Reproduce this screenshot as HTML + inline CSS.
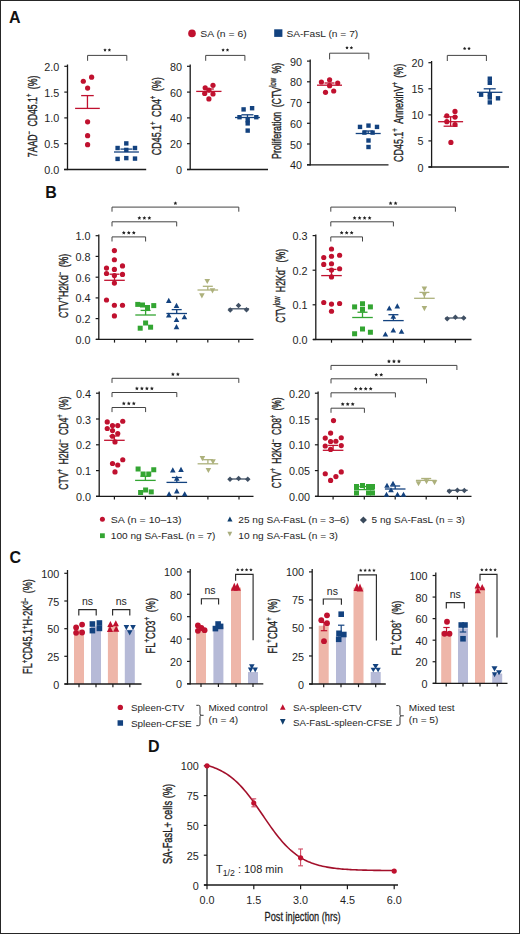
<!DOCTYPE html>
<html><head><meta charset="utf-8"><title>Figure</title>
<style>
html,body{margin:0;padding:0;background:#fff;}
body{width:520px;height:934px;overflow:hidden;}
svg{display:block;font-family:"Liberation Sans",sans-serif;}
</style></head>
<body>
<svg width="520" height="934" viewBox="0 0 520 934">
<rect x="0.5" y="0.5" width="519" height="933" fill="#fff" stroke="#262626" stroke-width="1"/>
<text x="9" y="22.8" font-size="16" text-anchor="start" fill="#111" font-weight="bold">A</text>
<text x="45.2" y="198.4" font-size="16" text-anchor="start" fill="#111" font-weight="bold">B</text>
<text x="9.6" y="562.6" font-size="16" text-anchor="start" fill="#111" font-weight="bold">C</text>
<text x="148" y="751.8" font-size="16" text-anchor="start" fill="#111" font-weight="bold">D</text>
<circle cx="192" cy="33.4" r="3.8" fill="#c0112f"/>
<text x="200.2" y="37.2" font-size="9.9" text-anchor="start" fill="#1e1e1e" font-weight="normal" textLength="46.6" lengthAdjust="spacingAndGlyphs">SA (n = 6)</text>
<rect x="274.2" y="29.3" width="8.2" height="7.6" fill="#13427f"/>
<text x="286.4" y="37.2" font-size="9.9" text-anchor="start" fill="#1e1e1e" font-weight="normal" textLength="71.8" lengthAdjust="spacingAndGlyphs">SA-FasL (n = 7)</text>
<line x1="67.5" y1="64.5" x2="67.5" y2="170.1" stroke="#1a1a1a" stroke-width="1.3"/>
<line x1="64.3" y1="169.5" x2="67.5" y2="169.5" stroke="#1a1a1a" stroke-width="1.2"/>
<text x="59.3" y="174.04" font-size="10.8" text-anchor="end" fill="#1e1e1e" font-weight="normal">0.0</text>
<line x1="64.3" y1="143.7" x2="67.5" y2="143.7" stroke="#1a1a1a" stroke-width="1.2"/>
<text x="59.3" y="148.24" font-size="10.8" text-anchor="end" fill="#1e1e1e" font-weight="normal">0.5</text>
<line x1="64.3" y1="117.9" x2="67.5" y2="117.9" stroke="#1a1a1a" stroke-width="1.2"/>
<text x="59.3" y="122.44" font-size="10.8" text-anchor="end" fill="#1e1e1e" font-weight="normal">1.0</text>
<line x1="64.3" y1="92.1" x2="67.5" y2="92.1" stroke="#1a1a1a" stroke-width="1.2"/>
<text x="59.3" y="96.64" font-size="10.8" text-anchor="end" fill="#1e1e1e" font-weight="normal">1.5</text>
<line x1="64.3" y1="66.3" x2="67.5" y2="66.3" stroke="#1a1a1a" stroke-width="1.2"/>
<text x="59.3" y="70.84" font-size="10.8" text-anchor="end" fill="#1e1e1e" font-weight="normal">2.0</text>
<line x1="64" y1="169.5" x2="146.2" y2="169.5" stroke="#1a1a1a" stroke-width="1.3"/>
<polyline points="87.6,60.8 87.6,55.4 126.8,55.4 126.8,60.8" fill="none" stroke="#444" stroke-width="1.0"/>
<polygon points="105,48.2 105.53,49.27 106.71,49.44 105.86,50.28 106.06,51.46 105,50.9 103.94,51.46 104.14,50.28 103.29,49.44 104.47,49.27" fill="#222"/>
<polygon points="109.4,48.2 109.93,49.27 111.11,49.44 110.26,50.28 110.46,51.46 109.4,50.9 108.34,51.46 108.54,50.28 107.69,49.44 108.87,49.27" fill="#222"/>
<circle cx="83.3" cy="81.25" r="2.6" fill="#c0112f"/>
<circle cx="91.6" cy="77.2" r="2.6" fill="#c0112f"/>
<circle cx="87.6" cy="88.1" r="2.6" fill="#c0112f"/>
<circle cx="87.6" cy="121.8" r="2.6" fill="#c0112f"/>
<circle cx="87.6" cy="135.7" r="2.6" fill="#c0112f"/>
<circle cx="87.6" cy="144.7" r="2.6" fill="#c0112f"/>
<line x1="75.1" y1="108.4" x2="99.8" y2="108.4" stroke="#c0112f" stroke-width="1.3"/>
<line x1="87.45" y1="108.4" x2="87.45" y2="95.6" stroke="#c0112f" stroke-width="1.3"/>
<line x1="81.15" y1="95.6" x2="93.75" y2="95.6" stroke="#c0112f" stroke-width="1.3"/>
<rect x="115.4" y="145.8" width="4.4" height="4.4" fill="#13427f"/>
<rect x="124.1" y="141.2" width="4.4" height="4.4" fill="#13427f"/>
<rect x="132.8" y="145.8" width="4.4" height="4.4" fill="#13427f"/>
<rect x="124.1" y="147.7" width="4.4" height="4.4" fill="#13427f"/>
<rect x="115.4" y="156.7" width="4.4" height="4.4" fill="#13427f"/>
<rect x="124.1" y="155.9" width="4.4" height="4.4" fill="#13427f"/>
<rect x="132.8" y="156.4" width="4.4" height="4.4" fill="#13427f"/>
<line x1="114" y1="152" x2="138.9" y2="152" stroke="#13427f" stroke-width="1.3"/>
<line x1="126.45" y1="152" x2="126.45" y2="149.1" stroke="#13427f" stroke-width="1.3"/>
<line x1="120.45" y1="149.1" x2="132.45" y2="149.1" stroke="#13427f" stroke-width="1.3"/>
<text transform="translate(37,116.45) rotate(-90)" x="0" y="0" font-size="13.5" text-anchor="middle" fill="#1e1e1e" stroke="#1e1e1e" stroke-width="0.38" textLength="81.5" lengthAdjust="spacingAndGlyphs">7AAD<tspan dy="-4.8" font-size="9" stroke-width="0.3">−</tspan><tspan dy="4.8"> CD45.1</tspan><tspan dy="-4.8" font-size="9" stroke-width="0.3">+</tspan><tspan dy="4.8"> (%)</tspan></text>
<line x1="190.2" y1="64.5" x2="190.2" y2="170.1" stroke="#1a1a1a" stroke-width="1.3"/>
<line x1="187" y1="169.5" x2="190.2" y2="169.5" stroke="#1a1a1a" stroke-width="1.2"/>
<text x="182" y="174.04" font-size="10.8" text-anchor="end" fill="#1e1e1e" font-weight="normal">0</text>
<line x1="187" y1="143.7" x2="190.2" y2="143.7" stroke="#1a1a1a" stroke-width="1.2"/>
<text x="182" y="148.24" font-size="10.8" text-anchor="end" fill="#1e1e1e" font-weight="normal">20</text>
<line x1="187" y1="117.9" x2="190.2" y2="117.9" stroke="#1a1a1a" stroke-width="1.2"/>
<text x="182" y="122.44" font-size="10.8" text-anchor="end" fill="#1e1e1e" font-weight="normal">40</text>
<line x1="187" y1="92.1" x2="190.2" y2="92.1" stroke="#1a1a1a" stroke-width="1.2"/>
<text x="182" y="96.64" font-size="10.8" text-anchor="end" fill="#1e1e1e" font-weight="normal">60</text>
<line x1="187" y1="66.3" x2="190.2" y2="66.3" stroke="#1a1a1a" stroke-width="1.2"/>
<text x="182" y="70.84" font-size="10.8" text-anchor="end" fill="#1e1e1e" font-weight="normal">80</text>
<line x1="187" y1="169.5" x2="268" y2="169.5" stroke="#1a1a1a" stroke-width="1.3"/>
<polyline points="205.7,60.8 205.7,55.4 244.9,55.4 244.9,60.8" fill="none" stroke="#444" stroke-width="1.0"/>
<polygon points="223.1,48.2 223.63,49.27 224.81,49.44 223.96,50.28 224.16,51.46 223.1,50.9 222.04,51.46 222.24,50.28 221.39,49.44 222.57,49.27" fill="#222"/>
<polygon points="227.5,48.2 228.03,49.27 229.21,49.44 228.36,50.28 228.56,51.46 227.5,50.9 226.44,51.46 226.64,50.28 225.79,49.44 226.97,49.27" fill="#222"/>
<circle cx="205.2" cy="87.8" r="2.6" fill="#c0112f"/>
<circle cx="213" cy="85.3" r="2.6" fill="#c0112f"/>
<circle cx="204.7" cy="93.5" r="2.6" fill="#c0112f"/>
<circle cx="213" cy="94" r="2.6" fill="#c0112f"/>
<circle cx="208.9" cy="90.2" r="2.6" fill="#c0112f"/>
<circle cx="208.9" cy="98.9" r="2.6" fill="#c0112f"/>
<line x1="196.2" y1="91.4" x2="221.5" y2="91.4" stroke="#c0112f" stroke-width="1.3"/>
<line x1="208.85" y1="91.4" x2="208.85" y2="89" stroke="#c0112f" stroke-width="1.3"/>
<line x1="203.85" y1="89" x2="213.85" y2="89" stroke="#c0112f" stroke-width="1.3"/>
<rect x="241.4" y="107.2" width="4.4" height="4.4" fill="#13427f"/>
<rect x="249.9" y="106" width="4.4" height="4.4" fill="#13427f"/>
<rect x="237.3" y="115" width="4.4" height="4.4" fill="#13427f"/>
<rect x="254.1" y="115" width="4.4" height="4.4" fill="#13427f"/>
<rect x="245.5" y="118" width="4.4" height="4.4" fill="#13427f"/>
<rect x="245.5" y="121.2" width="4.4" height="4.4" fill="#13427f"/>
<rect x="245.5" y="128.4" width="4.4" height="4.4" fill="#13427f"/>
<line x1="235" y1="117.5" x2="259.9" y2="117.5" stroke="#13427f" stroke-width="1.3"/>
<line x1="247.45" y1="117.5" x2="247.45" y2="114.8" stroke="#13427f" stroke-width="1.3"/>
<line x1="241.45" y1="114.8" x2="253.45" y2="114.8" stroke="#13427f" stroke-width="1.3"/>
<text transform="translate(161.2,116.25) rotate(-90)" x="0" y="0" font-size="13.5" text-anchor="middle" fill="#1e1e1e" stroke="#1e1e1e" stroke-width="0.38" textLength="77.9" lengthAdjust="spacingAndGlyphs">CD45.1<tspan dy="-4.8" font-size="9" stroke-width="0.3">+</tspan><tspan dy="4.8"> CD4</tspan><tspan dy="-4.8" font-size="9" stroke-width="0.3">+</tspan><tspan dy="4.8"> (%)</tspan></text>
<line x1="310.2" y1="59.5" x2="310.2" y2="165.4" stroke="#1a1a1a" stroke-width="1.3"/>
<line x1="307" y1="164.8" x2="310.2" y2="164.8" stroke="#1a1a1a" stroke-width="1.2"/>
<text x="302" y="169.34" font-size="10.8" text-anchor="end" fill="#1e1e1e" font-weight="normal">40</text>
<line x1="307" y1="144" x2="310.2" y2="144" stroke="#1a1a1a" stroke-width="1.2"/>
<text x="302" y="148.54" font-size="10.8" text-anchor="end" fill="#1e1e1e" font-weight="normal">50</text>
<line x1="307" y1="123.3" x2="310.2" y2="123.3" stroke="#1a1a1a" stroke-width="1.2"/>
<text x="302" y="127.84" font-size="10.8" text-anchor="end" fill="#1e1e1e" font-weight="normal">60</text>
<line x1="307" y1="102.5" x2="310.2" y2="102.5" stroke="#1a1a1a" stroke-width="1.2"/>
<text x="302" y="107.04" font-size="10.8" text-anchor="end" fill="#1e1e1e" font-weight="normal">70</text>
<line x1="307" y1="81.8" x2="310.2" y2="81.8" stroke="#1a1a1a" stroke-width="1.2"/>
<text x="302" y="86.34" font-size="10.8" text-anchor="end" fill="#1e1e1e" font-weight="normal">80</text>
<line x1="307" y1="61.1" x2="310.2" y2="61.1" stroke="#1a1a1a" stroke-width="1.2"/>
<text x="302" y="65.64" font-size="10.8" text-anchor="end" fill="#1e1e1e" font-weight="normal">90</text>
<line x1="307" y1="164.8" x2="388.5" y2="164.8" stroke="#1a1a1a" stroke-width="1.3"/>
<polyline points="329.6,59.4 329.6,53.2 368.8,53.2 368.8,59.4" fill="none" stroke="#444" stroke-width="1.0"/>
<polygon points="347,46 347.53,47.07 348.71,47.24 347.86,48.08 348.06,49.26 347,48.7 345.94,49.26 346.14,48.08 345.29,47.24 346.47,47.07" fill="#222"/>
<polygon points="351.4,46 351.93,47.07 353.11,47.24 352.26,48.08 352.46,49.26 351.4,48.7 350.34,49.26 350.54,48.08 349.69,47.24 350.87,47.07" fill="#222"/>
<circle cx="321.4" cy="82" r="2.6" fill="#c0112f"/>
<circle cx="329.6" cy="79.8" r="2.6" fill="#c0112f"/>
<circle cx="337.7" cy="83.1" r="2.6" fill="#c0112f"/>
<circle cx="329.6" cy="85.7" r="2.6" fill="#c0112f"/>
<circle cx="325.5" cy="92.3" r="2.6" fill="#c0112f"/>
<circle cx="333.7" cy="91" r="2.6" fill="#c0112f"/>
<line x1="317" y1="85.2" x2="342" y2="85.2" stroke="#c0112f" stroke-width="1.3"/>
<line x1="329.5" y1="85.2" x2="329.5" y2="83" stroke="#c0112f" stroke-width="1.3"/>
<line x1="324.5" y1="83" x2="334.5" y2="83" stroke="#c0112f" stroke-width="1.3"/>
<rect x="357.8" y="124.7" width="4.4" height="4.4" fill="#13427f"/>
<rect x="366.3" y="123.4" width="4.4" height="4.4" fill="#13427f"/>
<rect x="374.8" y="124.7" width="4.4" height="4.4" fill="#13427f"/>
<rect x="362.2" y="130.4" width="4.4" height="4.4" fill="#13427f"/>
<rect x="370.4" y="130.4" width="4.4" height="4.4" fill="#13427f"/>
<rect x="366.3" y="138.3" width="4.4" height="4.4" fill="#13427f"/>
<rect x="366.3" y="144.8" width="4.4" height="4.4" fill="#13427f"/>
<line x1="355.7" y1="133.5" x2="380.7" y2="133.5" stroke="#13427f" stroke-width="1.3"/>
<line x1="368.2" y1="133.5" x2="368.2" y2="131" stroke="#13427f" stroke-width="1.3"/>
<line x1="363.2" y1="131" x2="373.2" y2="131" stroke="#13427f" stroke-width="1.3"/>
<text transform="translate(281,110.8) rotate(-90)" x="0" y="0" font-size="13.5" text-anchor="middle" fill="#1e1e1e" stroke="#1e1e1e" stroke-width="0.38" textLength="96.2" lengthAdjust="spacingAndGlyphs">Proliferation (CTV<tspan dy="-4.8" font-size="9" stroke-width="0.3">low</tspan><tspan dy="4.8"> %)</tspan></text>
<line x1="431.6" y1="61" x2="431.6" y2="167.6" stroke="#1a1a1a" stroke-width="1.3"/>
<line x1="428.4" y1="167" x2="431.6" y2="167" stroke="#1a1a1a" stroke-width="1.2"/>
<text x="423.4" y="171.54" font-size="10.8" text-anchor="end" fill="#1e1e1e" font-weight="normal">0</text>
<line x1="428.4" y1="140.9" x2="431.6" y2="140.9" stroke="#1a1a1a" stroke-width="1.2"/>
<text x="423.4" y="145.44" font-size="10.8" text-anchor="end" fill="#1e1e1e" font-weight="normal">5</text>
<line x1="428.4" y1="114.9" x2="431.6" y2="114.9" stroke="#1a1a1a" stroke-width="1.2"/>
<text x="423.4" y="119.44" font-size="10.8" text-anchor="end" fill="#1e1e1e" font-weight="normal">10</text>
<line x1="428.4" y1="88.8" x2="431.6" y2="88.8" stroke="#1a1a1a" stroke-width="1.2"/>
<text x="423.4" y="93.34" font-size="10.8" text-anchor="end" fill="#1e1e1e" font-weight="normal">15</text>
<line x1="428.4" y1="62.7" x2="431.6" y2="62.7" stroke="#1a1a1a" stroke-width="1.2"/>
<text x="423.4" y="67.24" font-size="10.8" text-anchor="end" fill="#1e1e1e" font-weight="normal">20</text>
<line x1="428.5" y1="167" x2="509" y2="167" stroke="#1a1a1a" stroke-width="1.3"/>
<polyline points="447.3,61 447.3,55.4 486.4,55.4 486.4,61" fill="none" stroke="#444" stroke-width="1.0"/>
<polygon points="464.65,46.8 465.18,47.87 466.36,48.04 465.51,48.88 465.71,50.06 464.65,49.5 463.59,50.06 463.79,48.88 462.94,48.04 464.12,47.87" fill="#222"/>
<polygon points="469.05,46.8 469.58,47.87 470.76,48.04 469.91,48.88 470.11,50.06 469.05,49.5 467.99,50.06 468.19,48.88 467.34,48.04 468.52,47.87" fill="#222"/>
<circle cx="446.8" cy="115.8" r="2.6" fill="#c0112f"/>
<circle cx="455" cy="111.4" r="2.6" fill="#c0112f"/>
<circle cx="455" cy="117.1" r="2.6" fill="#c0112f"/>
<circle cx="446.8" cy="121.7" r="2.6" fill="#c0112f"/>
<circle cx="455" cy="124.5" r="2.6" fill="#c0112f"/>
<circle cx="450.9" cy="142.4" r="2.6" fill="#c0112f"/>
<line x1="438.1" y1="121.7" x2="463.1" y2="121.7" stroke="#c0112f" stroke-width="1.3"/>
<line x1="450.6" y1="121.7" x2="450.6" y2="116.8" stroke="#c0112f" stroke-width="1.3"/>
<line x1="443.6" y1="116.8" x2="457.6" y2="116.8" stroke="#c0112f" stroke-width="1.3"/>
<line x1="450.6" y1="121.7" x2="450.6" y2="126.2" stroke="#c0112f" stroke-width="1.3"/>
<line x1="443.6" y1="126.2" x2="457.6" y2="126.2" stroke="#c0112f" stroke-width="1.3"/>
<rect x="487.6" y="76.5" width="4.4" height="4.4" fill="#13427f"/>
<rect x="487.6" y="80.6" width="4.4" height="4.4" fill="#13427f"/>
<rect x="478.9" y="92.5" width="4.4" height="4.4" fill="#13427f"/>
<rect x="487.6" y="92" width="4.4" height="4.4" fill="#13427f"/>
<rect x="487.6" y="95.3" width="4.4" height="4.4" fill="#13427f"/>
<rect x="487.6" y="100.2" width="4.4" height="4.4" fill="#13427f"/>
<rect x="495.8" y="96.1" width="4.4" height="4.4" fill="#13427f"/>
<line x1="477" y1="92.3" x2="502.4" y2="92.3" stroke="#13427f" stroke-width="1.3"/>
<line x1="489.7" y1="92.3" x2="489.7" y2="88.8" stroke="#13427f" stroke-width="1.3"/>
<line x1="483.7" y1="88.8" x2="495.7" y2="88.8" stroke="#13427f" stroke-width="1.3"/>
<text transform="translate(402.6,112.85) rotate(-90)" x="0" y="0" font-size="13.5" text-anchor="middle" fill="#1e1e1e" stroke="#1e1e1e" stroke-width="0.38" textLength="98.1" lengthAdjust="spacingAndGlyphs">CD45.1<tspan dy="-4.8" font-size="9" stroke-width="0.3">+</tspan><tspan dy="4.8"> AnnexinV</tspan><tspan dy="-4.8" font-size="9" stroke-width="0.3">+</tspan><tspan dy="4.8"> (%)</tspan></text>
<line x1="98.8" y1="234.5" x2="98.8" y2="340" stroke="#1a1a1a" stroke-width="1.3"/>
<line x1="95.6" y1="339.4" x2="98.8" y2="339.4" stroke="#1a1a1a" stroke-width="1.2"/>
<text x="90.6" y="343.94" font-size="10.8" text-anchor="end" fill="#1e1e1e" font-weight="normal">0.0</text>
<line x1="95.6" y1="318.6" x2="98.8" y2="318.6" stroke="#1a1a1a" stroke-width="1.2"/>
<text x="90.6" y="323.14" font-size="10.8" text-anchor="end" fill="#1e1e1e" font-weight="normal">0.2</text>
<line x1="95.6" y1="297.9" x2="98.8" y2="297.9" stroke="#1a1a1a" stroke-width="1.2"/>
<text x="90.6" y="302.44" font-size="10.8" text-anchor="end" fill="#1e1e1e" font-weight="normal">0.4</text>
<line x1="95.6" y1="277.2" x2="98.8" y2="277.2" stroke="#1a1a1a" stroke-width="1.2"/>
<text x="90.6" y="281.74" font-size="10.8" text-anchor="end" fill="#1e1e1e" font-weight="normal">0.6</text>
<line x1="95.6" y1="256.4" x2="98.8" y2="256.4" stroke="#1a1a1a" stroke-width="1.2"/>
<text x="90.6" y="260.94" font-size="10.8" text-anchor="end" fill="#1e1e1e" font-weight="normal">0.8</text>
<line x1="95.6" y1="235.7" x2="98.8" y2="235.7" stroke="#1a1a1a" stroke-width="1.2"/>
<text x="90.6" y="240.24" font-size="10.8" text-anchor="end" fill="#1e1e1e" font-weight="normal">1.0</text>
<line x1="96" y1="339.4" x2="253.5" y2="339.4" stroke="#1a1a1a" stroke-width="1.3"/>
<line x1="114.5" y1="339.4" x2="114.5" y2="342.6" stroke="#1a1a1a" stroke-width="1.2"/>
<line x1="145.6" y1="339.4" x2="145.6" y2="342.6" stroke="#1a1a1a" stroke-width="1.2"/>
<line x1="176.7" y1="339.4" x2="176.7" y2="342.6" stroke="#1a1a1a" stroke-width="1.2"/>
<line x1="207.8" y1="339.4" x2="207.8" y2="342.6" stroke="#1a1a1a" stroke-width="1.2"/>
<line x1="238.8" y1="339.4" x2="238.8" y2="342.6" stroke="#1a1a1a" stroke-width="1.2"/>
<polyline points="112,211.7 112,207.1 238.8,207.1 238.8,211.7" fill="none" stroke="#444" stroke-width="1.0"/>
<polygon points="175.4,201.25 176,202.47 177.35,202.67 176.37,203.62 176.6,204.96 175.4,204.33 174.2,204.96 174.43,203.62 173.45,202.67 174.8,202.47" fill="#222"/>
<polyline points="112,226.4 112,221.8 176.7,221.8 176.7,226.4" fill="none" stroke="#444" stroke-width="1.0"/>
<polygon points="139.35,215.95 139.95,217.17 141.3,217.37 140.32,218.32 140.55,219.66 139.35,219.03 138.15,219.66 138.38,218.32 137.4,217.37 138.75,217.17" fill="#222"/>
<polygon points="144.35,215.95 144.95,217.17 146.3,217.37 145.32,218.32 145.55,219.66 144.35,219.03 143.15,219.66 143.38,218.32 142.4,217.37 143.75,217.17" fill="#222"/>
<polygon points="149.35,215.95 149.95,217.17 151.3,217.37 150.32,218.32 150.55,219.66 149.35,219.03 148.15,219.66 148.38,218.32 147.4,217.37 148.75,217.17" fill="#222"/>
<polyline points="112,241.5 112,236.9 145.6,236.9 145.6,241.5" fill="none" stroke="#444" stroke-width="1.0"/>
<polygon points="123.8,230.75 124.4,231.97 125.75,232.17 124.77,233.12 125,234.46 123.8,233.83 122.6,234.46 122.83,233.12 121.85,232.17 123.2,231.97" fill="#222"/>
<polygon points="128.8,230.75 129.4,231.97 130.75,232.17 129.77,233.12 130,234.46 128.8,233.83 127.6,234.46 127.83,233.12 126.85,232.17 128.2,231.97" fill="#222"/>
<polygon points="133.8,230.75 134.4,231.97 135.75,232.17 134.77,233.12 135,234.46 133.8,233.83 132.6,234.46 132.83,233.12 131.85,232.17 133.2,231.97" fill="#222"/>
<circle cx="114.4" cy="250.6" r="2.6" fill="#c0112f"/>
<circle cx="114.4" cy="259.75" r="2.6" fill="#c0112f"/>
<circle cx="106.5" cy="268.1" r="2.6" fill="#c0112f"/>
<circle cx="114.4" cy="269.4" r="2.6" fill="#c0112f"/>
<circle cx="122.5" cy="265.9" r="2.6" fill="#c0112f"/>
<circle cx="106.5" cy="273.5" r="2.6" fill="#c0112f"/>
<circle cx="114.4" cy="275.6" r="2.6" fill="#c0112f"/>
<circle cx="122.5" cy="274.4" r="2.6" fill="#c0112f"/>
<circle cx="114.4" cy="283.1" r="2.6" fill="#c0112f"/>
<circle cx="106.5" cy="300" r="2.6" fill="#c0112f"/>
<circle cx="114.4" cy="305.25" r="2.6" fill="#c0112f"/>
<circle cx="122.5" cy="305.25" r="2.6" fill="#c0112f"/>
<circle cx="114.4" cy="315.9" r="2.6" fill="#c0112f"/>
<rect x="135.25" y="301.9" width="5.0" height="5.0" fill="#33a532"/>
<rect x="140" y="302.5" width="5.0" height="5.0" fill="#33a532"/>
<rect x="145" y="305" width="5.0" height="5.0" fill="#33a532"/>
<rect x="151.25" y="303.1" width="5.0" height="5.0" fill="#33a532"/>
<rect x="143.1" y="320.5" width="5.0" height="5.0" fill="#33a532"/>
<rect x="137.7" y="325.7" width="5.0" height="5.0" fill="#33a532"/>
<rect x="148.1" y="324.7" width="5.0" height="5.0" fill="#33a532"/>
<polygon points="168.75,297.77 171.55,302.92 165.95,302.92" fill="#13427f"/>
<polygon points="176.5,302.77 179.3,307.92 173.7,307.92" fill="#13427f"/>
<polygon points="168.75,312.42 171.55,317.57 165.95,317.57" fill="#13427f"/>
<polygon points="176.5,316.92 179.3,322.07 173.7,322.07" fill="#13427f"/>
<polygon points="184.4,314.17 187.2,319.32 181.6,319.32" fill="#13427f"/>
<polygon points="176.5,324.07 179.3,329.22 173.7,329.22" fill="#13427f"/>
<polygon points="207.25,284.08 210.05,278.93 204.45,278.93" fill="#adb17c"/>
<polygon points="212.5,293.43 215.3,288.28 209.7,288.28" fill="#adb17c"/>
<polygon points="201.9,298.43 204.7,293.28 199.1,293.28" fill="#adb17c"/>
<polygon points="230.25,307.25 233,310 230.25,312.75 227.5,310" fill="#405064"/>
<polygon points="238.5,302.85 241.25,305.6 238.5,308.35 235.75,305.6" fill="#405064"/>
<polygon points="246.5,307 249.25,309.75 246.5,312.5 243.75,309.75" fill="#405064"/>
<line x1="104.2" y1="280.3" x2="124.8" y2="280.3" stroke="#c0112f" stroke-width="1.3"/>
<line x1="114.5" y1="280.3" x2="114.5" y2="274.2" stroke="#c0112f" stroke-width="1.3"/>
<line x1="109.5" y1="274.2" x2="119.5" y2="274.2" stroke="#c0112f" stroke-width="1.3"/>
<line x1="135.3" y1="315" x2="155.9" y2="315" stroke="#33a532" stroke-width="1.3"/>
<line x1="145.6" y1="315" x2="145.6" y2="310.4" stroke="#33a532" stroke-width="1.3"/>
<line x1="140.6" y1="310.4" x2="150.6" y2="310.4" stroke="#33a532" stroke-width="1.3"/>
<line x1="166.4" y1="313.5" x2="187" y2="313.5" stroke="#13427f" stroke-width="1.3"/>
<line x1="176.7" y1="313.5" x2="176.7" y2="309.6" stroke="#13427f" stroke-width="1.3"/>
<line x1="171.7" y1="309.6" x2="181.7" y2="309.6" stroke="#13427f" stroke-width="1.3"/>
<line x1="197.5" y1="290" x2="218.1" y2="290" stroke="#adb17c" stroke-width="1.3"/>
<line x1="207.8" y1="290" x2="207.8" y2="286.3" stroke="#adb17c" stroke-width="1.3"/>
<line x1="202.8" y1="286.3" x2="212.8" y2="286.3" stroke="#adb17c" stroke-width="1.3"/>
<line x1="228.5" y1="308.8" x2="249.1" y2="308.8" stroke="#405064" stroke-width="1.3"/>
<text transform="translate(67.7,285.9) rotate(-90)" x="0" y="0" font-size="13.5" text-anchor="middle" fill="#1e1e1e" stroke="#1e1e1e" stroke-width="0.38" textLength="64.4" lengthAdjust="spacingAndGlyphs">CTV<tspan dy="-4.8" font-size="9" stroke-width="0.3">+</tspan><tspan dy="4.8">H2Kd</tspan><tspan dy="-4.8" font-size="9" stroke-width="0.3">−</tspan><tspan dy="4.8"> (%)</tspan></text>
<line x1="315.8" y1="234.5" x2="315.8" y2="340.1" stroke="#1a1a1a" stroke-width="1.3"/>
<line x1="312.6" y1="339.5" x2="315.8" y2="339.5" stroke="#1a1a1a" stroke-width="1.2"/>
<text x="307.6" y="344.04" font-size="10.8" text-anchor="end" fill="#1e1e1e" font-weight="normal">0.0</text>
<line x1="312.6" y1="304.8" x2="315.8" y2="304.8" stroke="#1a1a1a" stroke-width="1.2"/>
<text x="307.6" y="309.34" font-size="10.8" text-anchor="end" fill="#1e1e1e" font-weight="normal">0.1</text>
<line x1="312.6" y1="270.2" x2="315.8" y2="270.2" stroke="#1a1a1a" stroke-width="1.2"/>
<text x="307.6" y="274.74" font-size="10.8" text-anchor="end" fill="#1e1e1e" font-weight="normal">0.2</text>
<line x1="312.6" y1="235.6" x2="315.8" y2="235.6" stroke="#1a1a1a" stroke-width="1.2"/>
<text x="307.6" y="240.14" font-size="10.8" text-anchor="end" fill="#1e1e1e" font-weight="normal">0.3</text>
<line x1="313" y1="339.5" x2="471.5" y2="339.5" stroke="#1a1a1a" stroke-width="1.3"/>
<line x1="331.5" y1="339.5" x2="331.5" y2="342.7" stroke="#1a1a1a" stroke-width="1.2"/>
<line x1="362.5" y1="339.5" x2="362.5" y2="342.7" stroke="#1a1a1a" stroke-width="1.2"/>
<line x1="393.4" y1="339.5" x2="393.4" y2="342.7" stroke="#1a1a1a" stroke-width="1.2"/>
<line x1="424.4" y1="339.5" x2="424.4" y2="342.7" stroke="#1a1a1a" stroke-width="1.2"/>
<line x1="455.4" y1="339.5" x2="455.4" y2="342.7" stroke="#1a1a1a" stroke-width="1.2"/>
<polyline points="330.8,211.7 330.8,207.1 455.4,207.1 455.4,211.7" fill="none" stroke="#444" stroke-width="1.0"/>
<polygon points="390.6,201.25 391.2,202.47 392.55,202.67 391.57,203.62 391.8,204.96 390.6,204.33 389.4,204.96 389.63,203.62 388.65,202.67 390,202.47" fill="#222"/>
<polygon points="395.6,201.25 396.2,202.47 397.55,202.67 396.57,203.62 396.8,204.96 395.6,204.33 394.4,204.96 394.63,203.62 393.65,202.67 395,202.47" fill="#222"/>
<polyline points="330.8,226.4 330.8,221.8 393.4,221.8 393.4,226.4" fill="none" stroke="#444" stroke-width="1.0"/>
<polygon points="354.6,215.95 355.2,217.17 356.55,217.37 355.57,218.32 355.8,219.66 354.6,219.03 353.4,219.66 353.63,218.32 352.65,217.37 354,217.17" fill="#222"/>
<polygon points="359.6,215.95 360.2,217.17 361.55,217.37 360.57,218.32 360.8,219.66 359.6,219.03 358.4,219.66 358.63,218.32 357.65,217.37 359,217.17" fill="#222"/>
<polygon points="364.6,215.95 365.2,217.17 366.55,217.37 365.57,218.32 365.8,219.66 364.6,219.03 363.4,219.66 363.63,218.32 362.65,217.37 364,217.17" fill="#222"/>
<polygon points="369.6,215.95 370.2,217.17 371.55,217.37 370.57,218.32 370.8,219.66 369.6,219.03 368.4,219.66 368.63,218.32 367.65,217.37 369,217.17" fill="#222"/>
<polyline points="330.8,241.5 330.8,236.9 362.5,236.9 362.5,241.5" fill="none" stroke="#444" stroke-width="1.0"/>
<polygon points="341.65,230.75 342.25,231.97 343.6,232.17 342.62,233.12 342.85,234.46 341.65,233.83 340.45,234.46 340.68,233.12 339.7,232.17 341.05,231.97" fill="#222"/>
<polygon points="346.65,230.75 347.25,231.97 348.6,232.17 347.62,233.12 347.85,234.46 346.65,233.83 345.45,234.46 345.68,233.12 344.7,232.17 346.05,231.97" fill="#222"/>
<polygon points="351.65,230.75 352.25,231.97 353.6,232.17 352.62,233.12 352.85,234.46 351.65,233.83 350.45,234.46 350.68,233.12 349.7,232.17 351.05,231.97" fill="#222"/>
<circle cx="331.5" cy="249" r="2.6" fill="#c0112f"/>
<circle cx="323.75" cy="257.5" r="2.6" fill="#c0112f"/>
<circle cx="331.5" cy="256.25" r="2.6" fill="#c0112f"/>
<circle cx="339.6" cy="255.25" r="2.6" fill="#c0112f"/>
<circle cx="323.75" cy="264.4" r="2.6" fill="#c0112f"/>
<circle cx="331.5" cy="263.75" r="2.6" fill="#c0112f"/>
<circle cx="339.6" cy="268.75" r="2.6" fill="#c0112f"/>
<circle cx="331.5" cy="270" r="2.6" fill="#c0112f"/>
<circle cx="331.5" cy="276.9" r="2.6" fill="#c0112f"/>
<circle cx="323.75" cy="302.5" r="2.6" fill="#c0112f"/>
<circle cx="331.5" cy="304.1" r="2.6" fill="#c0112f"/>
<circle cx="339.6" cy="303.5" r="2.6" fill="#c0112f"/>
<circle cx="331.5" cy="311.25" r="2.6" fill="#c0112f"/>
<rect x="352.1" y="304.4" width="5.0" height="5.0" fill="#33a532"/>
<rect x="360" y="301.25" width="5.0" height="5.0" fill="#33a532"/>
<rect x="360" y="306.9" width="5.0" height="5.0" fill="#33a532"/>
<rect x="367.9" y="304.4" width="5.0" height="5.0" fill="#33a532"/>
<rect x="360" y="326.5" width="5.0" height="5.0" fill="#33a532"/>
<rect x="352.1" y="331.25" width="5.0" height="5.0" fill="#33a532"/>
<rect x="367.9" y="329.75" width="5.0" height="5.0" fill="#33a532"/>
<polygon points="389.3,305.47 392.1,310.62 386.5,310.62" fill="#13427f"/>
<polygon points="397.3,303.27 400.1,308.42 394.5,308.42" fill="#13427f"/>
<polygon points="393.3,313.67 396.1,318.82 390.5,318.82" fill="#13427f"/>
<polygon points="385.4,331.47 388.2,336.62 382.6,336.62" fill="#13427f"/>
<polygon points="393.3,327.47 396.1,332.62 390.5,332.62" fill="#13427f"/>
<polygon points="401.5,328.67 404.3,333.82 398.7,333.82" fill="#13427f"/>
<polygon points="424.4,291.63 427.2,286.48 421.6,286.48" fill="#adb17c"/>
<polygon points="424.4,297.43 427.2,292.28 421.6,292.28" fill="#adb17c"/>
<polygon points="424.4,311.13 427.2,305.98 421.6,305.98" fill="#adb17c"/>
<polygon points="447.2,316.05 449.95,318.8 447.2,321.55 444.45,318.8" fill="#405064"/>
<polygon points="455.4,314.55 458.15,317.3 455.4,320.05 452.65,317.3" fill="#405064"/>
<polygon points="463.7,315.25 466.45,318 463.7,320.75 460.95,318" fill="#405064"/>
<line x1="321.2" y1="275.6" x2="341.8" y2="275.6" stroke="#c0112f" stroke-width="1.3"/>
<line x1="331.5" y1="275.6" x2="331.5" y2="269.4" stroke="#c0112f" stroke-width="1.3"/>
<line x1="326.5" y1="269.4" x2="336.5" y2="269.4" stroke="#c0112f" stroke-width="1.3"/>
<line x1="352.2" y1="317.5" x2="372.8" y2="317.5" stroke="#33a532" stroke-width="1.3"/>
<line x1="362.5" y1="317.5" x2="362.5" y2="312.25" stroke="#33a532" stroke-width="1.3"/>
<line x1="357.5" y1="312.25" x2="367.5" y2="312.25" stroke="#33a532" stroke-width="1.3"/>
<line x1="383.1" y1="320.6" x2="403.7" y2="320.6" stroke="#13427f" stroke-width="1.3"/>
<line x1="393.4" y1="320.6" x2="393.4" y2="314.7" stroke="#13427f" stroke-width="1.3"/>
<line x1="388.4" y1="314.7" x2="398.4" y2="314.7" stroke="#13427f" stroke-width="1.3"/>
<line x1="414.1" y1="298.3" x2="434.7" y2="298.3" stroke="#adb17c" stroke-width="1.3"/>
<line x1="424.4" y1="298.3" x2="424.4" y2="292.4" stroke="#adb17c" stroke-width="1.3"/>
<line x1="419.4" y1="292.4" x2="429.4" y2="292.4" stroke="#adb17c" stroke-width="1.3"/>
<line x1="445.1" y1="318" x2="465.7" y2="318" stroke="#405064" stroke-width="1.3"/>
<text transform="translate(284.9,285.8) rotate(-90)" x="0" y="0" font-size="13.5" text-anchor="middle" fill="#1e1e1e" stroke="#1e1e1e" stroke-width="0.38" textLength="74" lengthAdjust="spacingAndGlyphs">CTV<tspan dy="-4.8" font-size="9" stroke-width="0.3">low</tspan><tspan dy="4.8"> H2Kd</tspan><tspan dy="-4.8" font-size="9" stroke-width="0.3">−</tspan><tspan dy="4.8"> (%)</tspan></text>
<line x1="99.2" y1="391.5" x2="99.2" y2="496.9" stroke="#1a1a1a" stroke-width="1.3"/>
<line x1="96" y1="496.3" x2="99.2" y2="496.3" stroke="#1a1a1a" stroke-width="1.2"/>
<text x="91" y="500.84" font-size="10.8" text-anchor="end" fill="#1e1e1e" font-weight="normal">0.0</text>
<line x1="96" y1="470.6" x2="99.2" y2="470.6" stroke="#1a1a1a" stroke-width="1.2"/>
<text x="91" y="475.14" font-size="10.8" text-anchor="end" fill="#1e1e1e" font-weight="normal">0.1</text>
<line x1="96" y1="444.8" x2="99.2" y2="444.8" stroke="#1a1a1a" stroke-width="1.2"/>
<text x="91" y="449.34" font-size="10.8" text-anchor="end" fill="#1e1e1e" font-weight="normal">0.2</text>
<line x1="96" y1="419" x2="99.2" y2="419" stroke="#1a1a1a" stroke-width="1.2"/>
<text x="91" y="423.54" font-size="10.8" text-anchor="end" fill="#1e1e1e" font-weight="normal">0.3</text>
<line x1="96" y1="393.2" x2="99.2" y2="393.2" stroke="#1a1a1a" stroke-width="1.2"/>
<text x="91" y="397.74" font-size="10.8" text-anchor="end" fill="#1e1e1e" font-weight="normal">0.4</text>
<line x1="96" y1="496.3" x2="253.5" y2="496.3" stroke="#1a1a1a" stroke-width="1.3"/>
<line x1="114.4" y1="496.3" x2="114.4" y2="499.5" stroke="#1a1a1a" stroke-width="1.2"/>
<line x1="145.4" y1="496.3" x2="145.4" y2="499.5" stroke="#1a1a1a" stroke-width="1.2"/>
<line x1="176.8" y1="496.3" x2="176.8" y2="499.5" stroke="#1a1a1a" stroke-width="1.2"/>
<line x1="207.9" y1="496.3" x2="207.9" y2="499.5" stroke="#1a1a1a" stroke-width="1.2"/>
<line x1="239" y1="496.3" x2="239" y2="499.5" stroke="#1a1a1a" stroke-width="1.2"/>
<polyline points="112,382.9 112,378.3 238.8,378.3 238.8,382.9" fill="none" stroke="#444" stroke-width="1.0"/>
<polygon points="172.9,372.25 173.5,373.47 174.85,373.67 173.87,374.62 174.1,375.96 172.9,375.32 171.7,375.96 171.93,374.62 170.95,373.67 172.3,373.47" fill="#222"/>
<polygon points="177.9,372.25 178.5,373.47 179.85,373.67 178.87,374.62 179.1,375.96 177.9,375.32 176.7,375.96 176.93,374.62 175.95,373.67 177.3,373.47" fill="#222"/>
<polyline points="112,397.1 112,392.5 176.8,392.5 176.8,397.1" fill="none" stroke="#444" stroke-width="1.0"/>
<polygon points="136.9,386.45 137.5,387.67 138.85,387.87 137.87,388.82 138.1,390.16 136.9,389.52 135.7,390.16 135.93,388.82 134.95,387.87 136.3,387.67" fill="#222"/>
<polygon points="141.9,386.45 142.5,387.67 143.85,387.87 142.87,388.82 143.1,390.16 141.9,389.52 140.7,390.16 140.93,388.82 139.95,387.87 141.3,387.67" fill="#222"/>
<polygon points="146.9,386.45 147.5,387.67 148.85,387.87 147.87,388.82 148.1,390.16 146.9,389.52 145.7,390.16 145.93,388.82 144.95,387.87 146.3,387.67" fill="#222"/>
<polygon points="151.9,386.45 152.5,387.67 153.85,387.87 152.87,388.82 153.1,390.16 151.9,389.52 150.7,390.16 150.93,388.82 149.95,387.87 151.3,387.67" fill="#222"/>
<polyline points="112,412.1 112,407.5 145.6,407.5 145.6,412.1" fill="none" stroke="#444" stroke-width="1.0"/>
<polygon points="123.8,401.45 124.4,402.67 125.75,402.87 124.77,403.82 125,405.16 123.8,404.52 122.6,405.16 122.83,403.82 121.85,402.87 123.2,402.67" fill="#222"/>
<polygon points="128.8,401.45 129.4,402.67 130.75,402.87 129.77,403.82 130,405.16 128.8,404.52 127.6,405.16 127.83,403.82 126.85,402.87 128.2,402.67" fill="#222"/>
<polygon points="133.8,401.45 134.4,402.67 135.75,402.87 134.77,403.82 135,405.16 133.8,404.52 132.6,405.16 132.83,403.82 131.85,402.87 133.2,402.67" fill="#222"/>
<circle cx="107.25" cy="421.9" r="2.6" fill="#c0112f"/>
<circle cx="122.75" cy="421.25" r="2.6" fill="#c0112f"/>
<circle cx="112.5" cy="425.6" r="2.6" fill="#c0112f"/>
<circle cx="117.75" cy="425.6" r="2.6" fill="#c0112f"/>
<circle cx="107.25" cy="428.5" r="2.6" fill="#c0112f"/>
<circle cx="112.5" cy="430.6" r="2.6" fill="#c0112f"/>
<circle cx="117.75" cy="433.5" r="2.6" fill="#c0112f"/>
<circle cx="112.5" cy="436.25" r="2.6" fill="#c0112f"/>
<circle cx="115" cy="441.9" r="2.6" fill="#c0112f"/>
<circle cx="122.75" cy="459.75" r="2.6" fill="#c0112f"/>
<circle cx="112.5" cy="463.5" r="2.6" fill="#c0112f"/>
<circle cx="117.75" cy="465" r="2.6" fill="#c0112f"/>
<circle cx="115" cy="471.9" r="2.6" fill="#c0112f"/>
<rect x="135.6" y="466.5" width="5.0" height="5.0" fill="#33a532"/>
<rect x="151.25" y="467.25" width="5.0" height="5.0" fill="#33a532"/>
<rect x="140.6" y="471.5" width="5.0" height="5.0" fill="#33a532"/>
<rect x="146.25" y="471.5" width="5.0" height="5.0" fill="#33a532"/>
<rect x="138.1" y="490" width="5.0" height="5.0" fill="#33a532"/>
<rect x="143.1" y="487.5" width="5.0" height="5.0" fill="#33a532"/>
<rect x="148.75" y="489.4" width="5.0" height="5.0" fill="#33a532"/>
<polygon points="172.8,467.37 175.6,472.52 170,472.52" fill="#13427f"/>
<polygon points="181,466.77 183.8,471.92 178.2,471.92" fill="#13427f"/>
<polygon points="176.8,475.57 179.6,480.72 174,480.72" fill="#13427f"/>
<polygon points="169.1,491.17 171.9,496.32 166.3,496.32" fill="#13427f"/>
<polygon points="176.8,488.37 179.6,493.52 174,493.52" fill="#13427f"/>
<polygon points="184.7,491.17 187.5,496.32 181.9,496.32" fill="#13427f"/>
<polygon points="202.4,461.13 205.2,455.98 199.6,455.98" fill="#adb17c"/>
<polygon points="213,464.43 215.8,459.28 210.2,459.28" fill="#adb17c"/>
<polygon points="208.4,473.03 211.2,467.88 205.6,467.88" fill="#adb17c"/>
<polygon points="230,476.55 232.75,479.3 230,482.05 227.25,479.3" fill="#405064"/>
<polygon points="238.6,475.65 241.35,478.4 238.6,481.15 235.85,478.4" fill="#405064"/>
<polygon points="247.75,476.55 250.5,479.3 247.75,482.05 245,479.3" fill="#405064"/>
<line x1="104.1" y1="440.3" x2="124.7" y2="440.3" stroke="#c0112f" stroke-width="1.3"/>
<line x1="114.4" y1="440.3" x2="114.4" y2="436" stroke="#c0112f" stroke-width="1.3"/>
<line x1="109.4" y1="436" x2="119.4" y2="436" stroke="#c0112f" stroke-width="1.3"/>
<line x1="135.1" y1="480.4" x2="155.7" y2="480.4" stroke="#33a532" stroke-width="1.3"/>
<line x1="145.4" y1="480.4" x2="145.4" y2="476.3" stroke="#33a532" stroke-width="1.3"/>
<line x1="140.4" y1="476.3" x2="150.4" y2="476.3" stroke="#33a532" stroke-width="1.3"/>
<line x1="166.5" y1="482.4" x2="187.1" y2="482.4" stroke="#13427f" stroke-width="1.3"/>
<line x1="176.8" y1="482.4" x2="176.8" y2="477.5" stroke="#13427f" stroke-width="1.3"/>
<line x1="171.8" y1="477.5" x2="181.8" y2="477.5" stroke="#13427f" stroke-width="1.3"/>
<line x1="197.6" y1="463.8" x2="218.2" y2="463.8" stroke="#adb17c" stroke-width="1.3"/>
<line x1="207.9" y1="463.8" x2="207.9" y2="459.7" stroke="#adb17c" stroke-width="1.3"/>
<line x1="202.9" y1="459.7" x2="212.9" y2="459.7" stroke="#adb17c" stroke-width="1.3"/>
<line x1="228.7" y1="479" x2="249.3" y2="479" stroke="#405064" stroke-width="1.3"/>
<text transform="translate(67.9,443.05) rotate(-90)" x="0" y="0" font-size="13.5" text-anchor="middle" fill="#1e1e1e" stroke="#1e1e1e" stroke-width="0.38" textLength="93.3" lengthAdjust="spacingAndGlyphs">CTV<tspan dy="-4.8" font-size="9" stroke-width="0.3">+</tspan><tspan dy="4.8"> H2Kd</tspan><tspan dy="-4.8" font-size="9" stroke-width="0.3">−</tspan><tspan dy="4.8"> CD4</tspan><tspan dy="-4.8" font-size="9" stroke-width="0.3">+</tspan><tspan dy="4.8"> (%)</tspan></text>
<line x1="318.1" y1="391.5" x2="318.1" y2="496.9" stroke="#1a1a1a" stroke-width="1.3"/>
<line x1="314.9" y1="496.3" x2="318.1" y2="496.3" stroke="#1a1a1a" stroke-width="1.2"/>
<text x="309.9" y="500.84" font-size="10.8" text-anchor="end" fill="#1e1e1e" font-weight="normal">0.00</text>
<line x1="314.9" y1="470.6" x2="318.1" y2="470.6" stroke="#1a1a1a" stroke-width="1.2"/>
<text x="309.9" y="475.14" font-size="10.8" text-anchor="end" fill="#1e1e1e" font-weight="normal">0.05</text>
<line x1="314.9" y1="444.8" x2="318.1" y2="444.8" stroke="#1a1a1a" stroke-width="1.2"/>
<text x="309.9" y="449.34" font-size="10.8" text-anchor="end" fill="#1e1e1e" font-weight="normal">0.10</text>
<line x1="314.9" y1="419" x2="318.1" y2="419" stroke="#1a1a1a" stroke-width="1.2"/>
<text x="309.9" y="423.54" font-size="10.8" text-anchor="end" fill="#1e1e1e" font-weight="normal">0.15</text>
<line x1="314.9" y1="393.2" x2="318.1" y2="393.2" stroke="#1a1a1a" stroke-width="1.2"/>
<text x="309.9" y="397.74" font-size="10.8" text-anchor="end" fill="#1e1e1e" font-weight="normal">0.20</text>
<line x1="315" y1="496.3" x2="471.5" y2="496.3" stroke="#1a1a1a" stroke-width="1.3"/>
<line x1="333.1" y1="496.3" x2="333.1" y2="499.5" stroke="#1a1a1a" stroke-width="1.2"/>
<line x1="364.3" y1="496.3" x2="364.3" y2="499.5" stroke="#1a1a1a" stroke-width="1.2"/>
<line x1="395.2" y1="496.3" x2="395.2" y2="499.5" stroke="#1a1a1a" stroke-width="1.2"/>
<line x1="426.2" y1="496.3" x2="426.2" y2="499.5" stroke="#1a1a1a" stroke-width="1.2"/>
<line x1="457.4" y1="496.3" x2="457.4" y2="499.5" stroke="#1a1a1a" stroke-width="1.2"/>
<polyline points="331,370 331,365.4 456.9,365.4 456.9,370" fill="none" stroke="#444" stroke-width="1.0"/>
<polygon points="388.95,359.35 389.55,360.57 390.9,360.77 389.92,361.72 390.15,363.06 388.95,362.42 387.75,363.06 387.98,361.72 387,360.77 388.35,360.57" fill="#222"/>
<polygon points="393.95,359.35 394.55,360.57 395.9,360.77 394.92,361.72 395.15,363.06 393.95,362.42 392.75,363.06 392.98,361.72 392,360.77 393.35,360.57" fill="#222"/>
<polygon points="398.95,359.35 399.55,360.57 400.9,360.77 399.92,361.72 400.15,363.06 398.95,362.42 397.75,363.06 397.98,361.72 397,360.77 398.35,360.57" fill="#222"/>
<polyline points="331,383.4 331,378.8 426.5,378.8 426.5,383.4" fill="none" stroke="#444" stroke-width="1.0"/>
<polygon points="376.25,372.75 376.85,373.97 378.2,374.17 377.22,375.12 377.45,376.46 376.25,375.82 375.05,376.46 375.28,375.12 374.3,374.17 375.65,373.97" fill="#222"/>
<polygon points="381.25,372.75 381.85,373.97 383.2,374.17 382.22,375.12 382.45,376.46 381.25,375.82 380.05,376.46 380.28,375.12 379.3,374.17 380.65,373.97" fill="#222"/>
<polyline points="331,397.4 331,392.8 395.4,392.8 395.4,397.4" fill="none" stroke="#444" stroke-width="1.0"/>
<polygon points="355.7,386.75 356.3,387.97 357.65,388.17 356.67,389.12 356.9,390.46 355.7,389.82 354.5,390.46 354.73,389.12 353.75,388.17 355.1,387.97" fill="#222"/>
<polygon points="360.7,386.75 361.3,387.97 362.65,388.17 361.67,389.12 361.9,390.46 360.7,389.82 359.5,390.46 359.73,389.12 358.75,388.17 360.1,387.97" fill="#222"/>
<polygon points="365.7,386.75 366.3,387.97 367.65,388.17 366.67,389.12 366.9,390.46 365.7,389.82 364.5,390.46 364.73,389.12 363.75,388.17 365.1,387.97" fill="#222"/>
<polygon points="370.7,386.75 371.3,387.97 372.65,388.17 371.67,389.12 371.9,390.46 370.7,389.82 369.5,390.46 369.73,389.12 368.75,388.17 370.1,387.97" fill="#222"/>
<polyline points="331,412.8 331,408.2 364.4,408.2 364.4,412.8" fill="none" stroke="#444" stroke-width="1.0"/>
<polygon points="342.7,402.15 343.3,403.37 344.65,403.57 343.67,404.52 343.9,405.86 342.7,405.22 341.5,405.86 341.73,404.52 340.75,403.57 342.1,403.37" fill="#222"/>
<polygon points="347.7,402.15 348.3,403.37 349.65,403.57 348.67,404.52 348.9,405.86 347.7,405.22 346.5,405.86 346.73,404.52 345.75,403.57 347.1,403.37" fill="#222"/>
<polygon points="352.7,402.15 353.3,403.37 354.65,403.57 353.67,404.52 353.9,405.86 352.7,405.22 351.5,405.86 351.73,404.52 350.75,403.57 352.1,403.37" fill="#222"/>
<circle cx="333.5" cy="420.6" r="2.6" fill="#c0112f"/>
<circle cx="330.6" cy="433.1" r="2.6" fill="#c0112f"/>
<circle cx="325.25" cy="438.1" r="2.6" fill="#c0112f"/>
<circle cx="341.25" cy="437.75" r="2.6" fill="#c0112f"/>
<circle cx="330.6" cy="441.5" r="2.6" fill="#c0112f"/>
<circle cx="335.9" cy="441.25" r="2.6" fill="#c0112f"/>
<circle cx="325.25" cy="446" r="2.6" fill="#c0112f"/>
<circle cx="341.25" cy="445.6" r="2.6" fill="#c0112f"/>
<circle cx="330.6" cy="449.4" r="2.6" fill="#c0112f"/>
<circle cx="325.25" cy="473.75" r="2.6" fill="#c0112f"/>
<circle cx="341.25" cy="471.9" r="2.6" fill="#c0112f"/>
<circle cx="335.9" cy="476.6" r="2.6" fill="#c0112f"/>
<circle cx="330.6" cy="480.4" r="2.6" fill="#c0112f"/>
<rect x="354" y="484" width="5.0" height="5.0" fill="#33a532"/>
<rect x="360" y="483" width="5.0" height="5.0" fill="#33a532"/>
<rect x="366" y="484" width="5.0" height="5.0" fill="#33a532"/>
<rect x="370" y="484" width="5.0" height="5.0" fill="#33a532"/>
<rect x="354" y="490.5" width="5.0" height="5.0" fill="#33a532"/>
<rect x="366" y="490.5" width="5.0" height="5.0" fill="#33a532"/>
<rect x="370" y="490.5" width="5.0" height="5.0" fill="#33a532"/>
<polygon points="387,482.67 389.8,487.82 384.2,487.82" fill="#13427f"/>
<polygon points="393,480.67 395.8,485.82 390.2,485.82" fill="#13427f"/>
<polygon points="391,487.17 393.8,492.32 388.2,492.32" fill="#13427f"/>
<polygon points="386.5,491.67 389.3,496.82 383.7,496.82" fill="#13427f"/>
<polygon points="397.5,491.67 400.3,496.82 394.7,496.82" fill="#13427f"/>
<polygon points="403.5,491.67 406.3,496.82 400.7,496.82" fill="#13427f"/>
<polygon points="418.5,486.33 421.3,481.18 415.7,481.18" fill="#adb17c"/>
<polygon points="426.5,484.33 429.3,479.18 423.7,479.18" fill="#adb17c"/>
<polygon points="434.5,485.33 437.3,480.18 431.7,480.18" fill="#adb17c"/>
<polygon points="449.3,488.45 452.05,491.2 449.3,493.95 446.55,491.2" fill="#405064"/>
<polygon points="457.4,487.45 460.15,490.2 457.4,492.95 454.65,490.2" fill="#405064"/>
<polygon points="464.3,487.65 467.05,490.4 464.3,493.15 461.55,490.4" fill="#405064"/>
<line x1="322.8" y1="450.3" x2="343.4" y2="450.3" stroke="#c0112f" stroke-width="1.3"/>
<line x1="333.1" y1="450.3" x2="333.1" y2="445.4" stroke="#c0112f" stroke-width="1.3"/>
<line x1="328.1" y1="445.4" x2="338.1" y2="445.4" stroke="#c0112f" stroke-width="1.3"/>
<line x1="354" y1="489.6" x2="374.6" y2="489.6" stroke="#33a532" stroke-width="1.3"/>
<line x1="364.3" y1="489.6" x2="364.3" y2="486.5" stroke="#33a532" stroke-width="1.3"/>
<line x1="359.3" y1="486.5" x2="369.3" y2="486.5" stroke="#33a532" stroke-width="1.3"/>
<line x1="384.9" y1="489" x2="405.5" y2="489" stroke="#13427f" stroke-width="1.3"/>
<line x1="395.2" y1="489" x2="395.2" y2="486" stroke="#13427f" stroke-width="1.3"/>
<line x1="390.2" y1="486" x2="400.2" y2="486" stroke="#13427f" stroke-width="1.3"/>
<line x1="415.9" y1="480.4" x2="436.5" y2="480.4" stroke="#adb17c" stroke-width="1.3"/>
<line x1="426.2" y1="480.4" x2="426.2" y2="478.5" stroke="#adb17c" stroke-width="1.3"/>
<line x1="421.2" y1="478.5" x2="431.2" y2="478.5" stroke="#adb17c" stroke-width="1.3"/>
<line x1="447.1" y1="490.3" x2="467.7" y2="490.3" stroke="#405064" stroke-width="1.3"/>
<text transform="translate(280.6,442.75) rotate(-90)" x="0" y="0" font-size="13.5" text-anchor="middle" fill="#1e1e1e" stroke="#1e1e1e" stroke-width="0.38" textLength="90.9" lengthAdjust="spacingAndGlyphs">CTV<tspan dy="-4.8" font-size="9" stroke-width="0.3">+</tspan><tspan dy="4.8"> H2Kd</tspan><tspan dy="-4.8" font-size="9" stroke-width="0.3">−</tspan><tspan dy="4.8"> CD8</tspan><tspan dy="-4.8" font-size="9" stroke-width="0.3">+</tspan><tspan dy="4.8"> (%)</tspan></text>
<circle cx="102.4" cy="519.2" r="2.5" fill="#c0112f"/>
<text x="110.8" y="523.4" font-size="9.9" text-anchor="start" fill="#1e1e1e" font-weight="normal" textLength="70.8" lengthAdjust="spacingAndGlyphs">SA (n = 10–13)</text>
<rect x="100" y="533.3" width="4.8" height="4.8" fill="#33a532"/>
<text x="110.8" y="539.2" font-size="9.9" text-anchor="start" fill="#1e1e1e" font-weight="normal" textLength="104.6" lengthAdjust="spacingAndGlyphs">100 ng SA-FasL (n = 7)</text>
<polygon points="229.9,516.55 232.5,521.55 227.3,521.55" fill="#0e3d6c"/>
<text x="238.3" y="523.4" font-size="9.9" text-anchor="start" fill="#1e1e1e" font-weight="normal" textLength="110.8" lengthAdjust="spacingAndGlyphs">25 ng SA-FasL (n = 3–6)</text>
<polygon points="229.8,536.43 232.2,531.83 227.4,531.83" fill="#a9ad7e"/>
<text x="238.3" y="539.2" font-size="9.9" text-anchor="start" fill="#1e1e1e" font-weight="normal" textLength="99.6" lengthAdjust="spacingAndGlyphs">10 ng SA-FasL (n = 3)</text>
<polygon points="363.4,516.58 366.92,520.1 363.4,523.62 359.88,520.1" fill="#3a4a5c"/>
<text x="371.6" y="523.4" font-size="9.9" text-anchor="start" fill="#1e1e1e" font-weight="normal" textLength="93.3" lengthAdjust="spacingAndGlyphs">5 ng SA-FasL (n = 3)</text>
<rect x="74" y="629.76" width="10" height="54.24" fill="#eeb6a9"/>
<rect x="91" y="626.44" width="10" height="57.56" fill="#b6bad7"/>
<rect x="107.9" y="625.33" width="10" height="58.67" fill="#eeb6a9"/>
<rect x="124.8" y="629.76" width="10" height="54.24" fill="#b6bad7"/>
<circle cx="76.1" cy="627.4" r="2.9" fill="#c0112f"/>
<circle cx="82.1" cy="624.6" r="2.9" fill="#c0112f"/>
<circle cx="76.1" cy="632.8" r="2.9" fill="#c0112f"/>
<circle cx="82.1" cy="632.5" r="2.9" fill="#c0112f"/>
<rect x="89.6" y="621.2" width="5.6" height="5.6" fill="#13427f"/>
<rect x="96.6" y="620.2" width="5.6" height="5.6" fill="#13427f"/>
<rect x="89.6" y="627.8" width="5.6" height="5.6" fill="#13427f"/>
<rect x="96.6" y="625.6" width="5.6" height="5.6" fill="#13427f"/>
<polygon points="110.4,620.9 113.5,626.9 107.3,626.9" fill="#c0112f"/>
<polygon points="115.8,620.3 118.9,626.3 112.7,626.3" fill="#c0112f"/>
<polygon points="110,625.9 113.1,631.9 106.9,631.9" fill="#c0112f"/>
<polygon points="116.2,625.7 119.3,631.7 113.1,631.7" fill="#c0112f"/>
<polygon points="126.4,630.26 129.2,625.06 123.6,625.06" fill="#13427f"/>
<polygon points="133,630.26 135.8,625.06 130.2,625.06" fill="#13427f"/>
<polygon points="129.7,635.46 132.5,630.26 126.9,630.26" fill="#13427f"/>
<line x1="67.5" y1="570" x2="67.5" y2="684.6" stroke="#1a1a1a" stroke-width="1.3"/>
<line x1="64.3" y1="684" x2="67.5" y2="684" stroke="#1a1a1a" stroke-width="1.2"/>
<text x="59.3" y="688.54" font-size="10.8" text-anchor="end" fill="#1e1e1e" font-weight="normal">0</text>
<line x1="64.3" y1="656.3" x2="67.5" y2="656.3" stroke="#1a1a1a" stroke-width="1.2"/>
<text x="59.3" y="660.84" font-size="10.8" text-anchor="end" fill="#1e1e1e" font-weight="normal">25</text>
<line x1="64.3" y1="628.7" x2="67.5" y2="628.7" stroke="#1a1a1a" stroke-width="1.2"/>
<text x="59.3" y="633.24" font-size="10.8" text-anchor="end" fill="#1e1e1e" font-weight="normal">50</text>
<line x1="64.3" y1="601" x2="67.5" y2="601" stroke="#1a1a1a" stroke-width="1.2"/>
<text x="59.3" y="605.54" font-size="10.8" text-anchor="end" fill="#1e1e1e" font-weight="normal">75</text>
<line x1="64.3" y1="573.3" x2="67.5" y2="573.3" stroke="#1a1a1a" stroke-width="1.2"/>
<text x="59.3" y="577.84" font-size="10.8" text-anchor="end" fill="#1e1e1e" font-weight="normal">100</text>
<line x1="64.5" y1="684" x2="141.5" y2="684" stroke="#1a1a1a" stroke-width="1.3"/>
<line x1="79" y1="684" x2="79" y2="687.2" stroke="#1a1a1a" stroke-width="1.2"/>
<line x1="96" y1="684" x2="96" y2="687.2" stroke="#1a1a1a" stroke-width="1.2"/>
<line x1="112.9" y1="684" x2="112.9" y2="687.2" stroke="#1a1a1a" stroke-width="1.2"/>
<line x1="129.8" y1="684" x2="129.8" y2="687.2" stroke="#1a1a1a" stroke-width="1.2"/>
<polyline points="78.8,615.4 78.8,609.6 96.2,609.6 96.2,615.4" fill="none" stroke="#2a2a2a" stroke-width="1.15"/>
<text x="87.5" y="604.6" font-size="10.5" text-anchor="middle" fill="#1e1e1e" font-weight="normal">ns</text>
<polyline points="112.6,615.4 112.6,609.6 129.8,609.6 129.8,615.4" fill="none" stroke="#2a2a2a" stroke-width="1.15"/>
<text x="121.2" y="604.6" font-size="10.5" text-anchor="middle" fill="#1e1e1e" font-weight="normal">ns</text>
<text transform="translate(32.4,626.55) rotate(-90)" x="0" y="0" font-size="13.5" text-anchor="middle" fill="#1e1e1e" stroke="#1e1e1e" stroke-width="0.38" textLength="94.7" lengthAdjust="spacingAndGlyphs">FL<tspan dy="-4.8" font-size="9" stroke-width="0.3">+</tspan><tspan dy="4.8">CD45.1</tspan><tspan dy="-4.8" font-size="9" stroke-width="0.3">+</tspan><tspan dy="4.8">H-2K</tspan><tspan dy="-4.8" font-size="9" stroke-width="0.3">d−</tspan><tspan dy="4.8"> (%)</tspan></text>
<rect x="196" y="630.09" width="10" height="53.71" fill="#eeb6a9"/>
<rect x="213.4" y="626.73" width="10" height="57.07" fill="#b6bad7"/>
<rect x="231" y="587.57" width="10" height="96.23" fill="#eeb6a9"/>
<rect x="248" y="672.05" width="10" height="11.75" fill="#b6bad7"/>
<circle cx="197.9" cy="625.4" r="2.9" fill="#c0112f"/>
<circle cx="201.4" cy="628" r="2.9" fill="#c0112f"/>
<circle cx="204.6" cy="630.2" r="2.9" fill="#c0112f"/>
<circle cx="197.9" cy="630.8" r="2.9" fill="#c0112f"/>
<rect x="215.3" y="621.2" width="5.6" height="5.6" fill="#13427f"/>
<rect x="212.6" y="625.8" width="5.6" height="5.6" fill="#13427f"/>
<rect x="217.8" y="623.6" width="5.6" height="5.6" fill="#13427f"/>
<polygon points="234.3,582.64 237.8,590.75 230.8,590.75" fill="#c0112f"/>
<polygon points="237.3,582.64 240.8,590.75 233.8,590.75" fill="#c0112f"/>
<polygon points="251.8,669.15 254.6,664.15 249,664.15" fill="#13427f"/>
<polygon points="250.6,672.45 253.3,667.45 247.9,667.45" fill="#13427f"/>
<polygon points="255.2,672.45 257.9,667.45 252.5,667.45" fill="#13427f"/>
<line x1="190.2" y1="568.9" x2="190.2" y2="684.4" stroke="#1a1a1a" stroke-width="1.3"/>
<line x1="187" y1="683.8" x2="190.2" y2="683.8" stroke="#1a1a1a" stroke-width="1.2"/>
<text x="182" y="688.34" font-size="10.8" text-anchor="end" fill="#1e1e1e" font-weight="normal">0</text>
<line x1="187" y1="661.42" x2="190.2" y2="661.42" stroke="#1a1a1a" stroke-width="1.2"/>
<text x="182" y="665.96" font-size="10.8" text-anchor="end" fill="#1e1e1e" font-weight="normal">20</text>
<line x1="187" y1="639.04" x2="190.2" y2="639.04" stroke="#1a1a1a" stroke-width="1.2"/>
<text x="182" y="643.58" font-size="10.8" text-anchor="end" fill="#1e1e1e" font-weight="normal">40</text>
<line x1="187" y1="616.66" x2="190.2" y2="616.66" stroke="#1a1a1a" stroke-width="1.2"/>
<text x="182" y="621.2" font-size="10.8" text-anchor="end" fill="#1e1e1e" font-weight="normal">60</text>
<line x1="187" y1="594.28" x2="190.2" y2="594.28" stroke="#1a1a1a" stroke-width="1.2"/>
<text x="182" y="598.82" font-size="10.8" text-anchor="end" fill="#1e1e1e" font-weight="normal">80</text>
<line x1="187" y1="571.9" x2="190.2" y2="571.9" stroke="#1a1a1a" stroke-width="1.2"/>
<text x="182" y="576.44" font-size="10.8" text-anchor="end" fill="#1e1e1e" font-weight="normal">100</text>
<line x1="187.2" y1="683.8" x2="263.3" y2="683.8" stroke="#1a1a1a" stroke-width="1.3"/>
<line x1="201" y1="683.8" x2="201" y2="687" stroke="#1a1a1a" stroke-width="1.2"/>
<line x1="218.4" y1="683.8" x2="218.4" y2="687" stroke="#1a1a1a" stroke-width="1.2"/>
<line x1="236" y1="683.8" x2="236" y2="687" stroke="#1a1a1a" stroke-width="1.2"/>
<line x1="253" y1="683.8" x2="253" y2="687" stroke="#1a1a1a" stroke-width="1.2"/>
<polyline points="201.4,604.5 201.4,598.7 218.6,598.7 218.6,604.5" fill="none" stroke="#2a2a2a" stroke-width="1.15"/>
<text x="210" y="594.3" font-size="10.5" text-anchor="middle" fill="#1e1e1e" font-weight="normal">ns</text>
<polyline points="235.6,580.8 235.6,574.3 253.1,574.3 253.1,640.2" fill="none" stroke="#2a2a2a" stroke-width="1.15"/>
<polygon points="237.75,568.1 238.28,569.17 239.46,569.34 238.61,570.18 238.81,571.36 237.75,570.8 236.69,571.36 236.89,570.18 236.04,569.34 237.22,569.17" fill="#222"/>
<polygon points="242.15,568.1 242.68,569.17 243.86,569.34 243.01,570.18 243.21,571.36 242.15,570.8 241.09,571.36 241.29,570.18 240.44,569.34 241.62,569.17" fill="#222"/>
<polygon points="246.55,568.1 247.08,569.17 248.26,569.34 247.41,570.18 247.61,571.36 246.55,570.8 245.49,571.36 245.69,570.18 244.84,569.34 246.02,569.17" fill="#222"/>
<polygon points="250.95,568.1 251.48,569.17 252.66,569.34 251.81,570.18 252.01,571.36 250.95,570.8 249.89,571.36 250.09,570.18 249.24,569.34 250.42,569.17" fill="#222"/>
<text transform="translate(154.9,625.7) rotate(-90)" x="0" y="0" font-size="13.5" text-anchor="middle" fill="#1e1e1e" stroke="#1e1e1e" stroke-width="0.38" textLength="55.4" lengthAdjust="spacingAndGlyphs">FL<tspan dy="-4.8" font-size="9" stroke-width="0.3">+</tspan><tspan dy="4.8">CD3</tspan><tspan dy="-4.8" font-size="9" stroke-width="0.3">+</tspan><tspan dy="4.8"> (%)</tspan></text>
<rect x="318.7" y="625.71" width="10" height="58.29" fill="#eeb6a9"/>
<rect x="336" y="635.8" width="10" height="48.2" fill="#b6bad7"/>
<rect x="353.5" y="587.59" width="10" height="96.41" fill="#eeb6a9"/>
<rect x="370.7" y="672.01" width="10" height="11.99" fill="#b6bad7"/>
<line x1="324" y1="630.7" x2="324" y2="622.5" stroke="#c0112f" stroke-width="1.2"/>
<line x1="320.8" y1="630.7" x2="327.2" y2="630.7" stroke="#c0112f" stroke-width="1.2"/>
<line x1="320.8" y1="622.5" x2="327.2" y2="622.5" stroke="#c0112f" stroke-width="1.2"/>
<line x1="341.2" y1="636" x2="341.2" y2="625.2" stroke="#13427f" stroke-width="1.2"/>
<line x1="338" y1="636" x2="344.4" y2="636" stroke="#13427f" stroke-width="1.2"/>
<line x1="338" y1="625.2" x2="344.4" y2="625.2" stroke="#13427f" stroke-width="1.2"/>
<circle cx="327" cy="615.3" r="2.9" fill="#c0112f"/>
<circle cx="321.3" cy="620.2" r="2.9" fill="#c0112f"/>
<circle cx="327" cy="623.2" r="2.9" fill="#c0112f"/>
<circle cx="324" cy="641.2" r="2.9" fill="#c0112f"/>
<rect x="338.4" y="611.4" width="5.6" height="5.6" fill="#13427f"/>
<rect x="336.2" y="630.5" width="5.6" height="5.6" fill="#13427f"/>
<rect x="341" y="631.7" width="5.6" height="5.6" fill="#13427f"/>
<rect x="335.9" y="636.5" width="5.6" height="5.6" fill="#13427f"/>
<polygon points="356.9,583 360.2,591 353.6,591" fill="#c0112f"/>
<polygon points="360,583.6 363.3,591.6 356.7,591.6" fill="#c0112f"/>
<polygon points="375.6,668.95 378.6,663.95 372.6,663.95" fill="#13427f"/>
<polygon points="373.3,672.33 376,667.73 370.6,667.73" fill="#13427f"/>
<polygon points="378.1,672.33 380.8,667.73 375.4,667.73" fill="#13427f"/>
<line x1="312.2" y1="568.9" x2="312.2" y2="684.6" stroke="#1a1a1a" stroke-width="1.3"/>
<line x1="309" y1="684" x2="312.2" y2="684" stroke="#1a1a1a" stroke-width="1.2"/>
<text x="304" y="688.54" font-size="10.8" text-anchor="end" fill="#1e1e1e" font-weight="normal">0</text>
<line x1="309" y1="655.98" x2="312.2" y2="655.98" stroke="#1a1a1a" stroke-width="1.2"/>
<text x="304" y="660.51" font-size="10.8" text-anchor="end" fill="#1e1e1e" font-weight="normal">25</text>
<line x1="309" y1="627.95" x2="312.2" y2="627.95" stroke="#1a1a1a" stroke-width="1.2"/>
<text x="304" y="632.49" font-size="10.8" text-anchor="end" fill="#1e1e1e" font-weight="normal">50</text>
<line x1="309" y1="599.92" x2="312.2" y2="599.92" stroke="#1a1a1a" stroke-width="1.2"/>
<text x="304" y="604.46" font-size="10.8" text-anchor="end" fill="#1e1e1e" font-weight="normal">75</text>
<line x1="309" y1="571.9" x2="312.2" y2="571.9" stroke="#1a1a1a" stroke-width="1.2"/>
<text x="304" y="576.44" font-size="10.8" text-anchor="end" fill="#1e1e1e" font-weight="normal">100</text>
<line x1="309.2" y1="684" x2="385.8" y2="684" stroke="#1a1a1a" stroke-width="1.3"/>
<line x1="323.7" y1="684" x2="323.7" y2="687.2" stroke="#1a1a1a" stroke-width="1.2"/>
<line x1="341" y1="684" x2="341" y2="687.2" stroke="#1a1a1a" stroke-width="1.2"/>
<line x1="358.5" y1="684" x2="358.5" y2="687.2" stroke="#1a1a1a" stroke-width="1.2"/>
<line x1="375.7" y1="684" x2="375.7" y2="687.2" stroke="#1a1a1a" stroke-width="1.2"/>
<polyline points="323.3,604.8 323.3,599 341.4,599 341.4,604.8" fill="none" stroke="#2a2a2a" stroke-width="1.15"/>
<text x="332.35" y="594.6" font-size="10.5" text-anchor="middle" fill="#1e1e1e" font-weight="normal">ns</text>
<polyline points="358.3,581.3 358.3,574.8 376.4,574.8 376.4,640.5" fill="none" stroke="#2a2a2a" stroke-width="1.15"/>
<polygon points="360.75,568.6 361.28,569.67 362.46,569.84 361.61,570.68 361.81,571.86 360.75,571.3 359.69,571.86 359.89,570.68 359.04,569.84 360.22,569.67" fill="#222"/>
<polygon points="365.15,568.6 365.68,569.67 366.86,569.84 366.01,570.68 366.21,571.86 365.15,571.3 364.09,571.86 364.29,570.68 363.44,569.84 364.62,569.67" fill="#222"/>
<polygon points="369.55,568.6 370.08,569.67 371.26,569.84 370.41,570.68 370.61,571.86 369.55,571.3 368.49,571.86 368.69,570.68 367.84,569.84 369.02,569.67" fill="#222"/>
<polygon points="373.95,568.6 374.48,569.67 375.66,569.84 374.81,570.68 375.01,571.86 373.95,571.3 372.89,571.86 373.09,570.68 372.24,569.84 373.42,569.67" fill="#222"/>
<text transform="translate(276.9,625.9) rotate(-90)" x="0" y="0" font-size="13.5" text-anchor="middle" fill="#1e1e1e" stroke="#1e1e1e" stroke-width="0.38" textLength="55" lengthAdjust="spacingAndGlyphs">FL<tspan dy="-4.8" font-size="9" stroke-width="0.3">+</tspan><tspan dy="4.8">CD4</tspan><tspan dy="-4.8" font-size="9" stroke-width="0.3">+</tspan><tspan dy="4.8"> (%)</tspan></text>
<rect x="441.2" y="631.56" width="10" height="51.74" fill="#eeb6a9"/>
<rect x="458" y="628.32" width="10" height="54.98" fill="#b6bad7"/>
<rect x="475" y="587.36" width="10" height="95.94" fill="#eeb6a9"/>
<rect x="492.2" y="673.6" width="10" height="9.7" fill="#b6bad7"/>
<line x1="446.5" y1="633" x2="446.5" y2="627.5" stroke="#c0112f" stroke-width="1.2"/>
<line x1="443.3" y1="633" x2="449.7" y2="633" stroke="#c0112f" stroke-width="1.2"/>
<line x1="443.3" y1="627.5" x2="449.7" y2="627.5" stroke="#c0112f" stroke-width="1.2"/>
<line x1="463" y1="632" x2="463" y2="625.5" stroke="#13427f" stroke-width="1.2"/>
<line x1="459.8" y1="632" x2="466.2" y2="632" stroke="#13427f" stroke-width="1.2"/>
<line x1="459.8" y1="625.5" x2="466.2" y2="625.5" stroke="#13427f" stroke-width="1.2"/>
<circle cx="447" cy="621.75" r="2.9" fill="#c0112f"/>
<circle cx="444.5" cy="633.75" r="2.9" fill="#c0112f"/>
<circle cx="449.5" cy="633.75" r="2.9" fill="#c0112f"/>
<rect x="458.45" y="622.2" width="5.6" height="5.6" fill="#13427f"/>
<rect x="462.2" y="622.2" width="5.6" height="5.6" fill="#13427f"/>
<rect x="460.2" y="635.95" width="5.6" height="5.6" fill="#13427f"/>
<polygon points="477.6,582.19 480.6,588.39 474.6,588.39" fill="#c0112f"/>
<polygon points="482.2,583.99 485.2,590.19 479.2,590.19" fill="#c0112f"/>
<polygon points="477.8,587.3 480.8,593.3 474.8,593.3" fill="#c0112f"/>
<polygon points="494.5,671.46 497.5,666.26 491.5,666.26" fill="#13427f"/>
<polygon points="499,675.35 502,670.35 496,670.35" fill="#13427f"/>
<polygon points="494.6,677.25 497.3,672.25 491.9,672.25" fill="#13427f"/>
<line x1="435.8" y1="572.5" x2="435.8" y2="683.9" stroke="#1a1a1a" stroke-width="1.3"/>
<line x1="432.6" y1="683.3" x2="435.8" y2="683.3" stroke="#1a1a1a" stroke-width="1.2"/>
<text x="427.6" y="687.84" font-size="10.8" text-anchor="end" fill="#1e1e1e" font-weight="normal">0</text>
<line x1="432.6" y1="661.74" x2="435.8" y2="661.74" stroke="#1a1a1a" stroke-width="1.2"/>
<text x="427.6" y="666.28" font-size="10.8" text-anchor="end" fill="#1e1e1e" font-weight="normal">20</text>
<line x1="432.6" y1="640.18" x2="435.8" y2="640.18" stroke="#1a1a1a" stroke-width="1.2"/>
<text x="427.6" y="644.72" font-size="10.8" text-anchor="end" fill="#1e1e1e" font-weight="normal">40</text>
<line x1="432.6" y1="618.62" x2="435.8" y2="618.62" stroke="#1a1a1a" stroke-width="1.2"/>
<text x="427.6" y="623.16" font-size="10.8" text-anchor="end" fill="#1e1e1e" font-weight="normal">60</text>
<line x1="432.6" y1="597.06" x2="435.8" y2="597.06" stroke="#1a1a1a" stroke-width="1.2"/>
<text x="427.6" y="601.6" font-size="10.8" text-anchor="end" fill="#1e1e1e" font-weight="normal">80</text>
<line x1="432.6" y1="575.5" x2="435.8" y2="575.5" stroke="#1a1a1a" stroke-width="1.2"/>
<text x="427.6" y="580.04" font-size="10.8" text-anchor="end" fill="#1e1e1e" font-weight="normal">100</text>
<line x1="432.8" y1="683.3" x2="507.5" y2="683.3" stroke="#1a1a1a" stroke-width="1.3"/>
<line x1="446.2" y1="683.3" x2="446.2" y2="686.5" stroke="#1a1a1a" stroke-width="1.2"/>
<line x1="463" y1="683.3" x2="463" y2="686.5" stroke="#1a1a1a" stroke-width="1.2"/>
<line x1="480" y1="683.3" x2="480" y2="686.5" stroke="#1a1a1a" stroke-width="1.2"/>
<line x1="497.2" y1="683.3" x2="497.2" y2="686.5" stroke="#1a1a1a" stroke-width="1.2"/>
<polyline points="446.3,608.4 446.3,602.6 464.3,602.6 464.3,608.4" fill="none" stroke="#2a2a2a" stroke-width="1.15"/>
<text x="455.3" y="598.2" font-size="10.5" text-anchor="middle" fill="#1e1e1e" font-weight="normal">ns</text>
<polyline points="480,580.8 480,574.3 497,574.3 497,637.5" fill="none" stroke="#2a2a2a" stroke-width="1.15"/>
<polygon points="481.9,568.1 482.43,569.17 483.61,569.34 482.76,570.18 482.96,571.36 481.9,570.8 480.84,571.36 481.04,570.18 480.19,569.34 481.37,569.17" fill="#222"/>
<polygon points="486.3,568.1 486.83,569.17 488.01,569.34 487.16,570.18 487.36,571.36 486.3,570.8 485.24,571.36 485.44,570.18 484.59,569.34 485.77,569.17" fill="#222"/>
<polygon points="490.7,568.1 491.23,569.17 492.41,569.34 491.56,570.18 491.76,571.36 490.7,570.8 489.64,571.36 489.84,570.18 488.99,569.34 490.17,569.17" fill="#222"/>
<polygon points="495.1,568.1 495.63,569.17 496.81,569.34 495.96,570.18 496.16,571.36 495.1,570.8 494.04,571.36 494.24,570.18 493.39,569.34 494.57,569.17" fill="#222"/>
<text transform="translate(400.5,628.1) rotate(-90)" x="0" y="0" font-size="13.5" text-anchor="middle" fill="#1e1e1e" stroke="#1e1e1e" stroke-width="0.38" textLength="55" lengthAdjust="spacingAndGlyphs">FL<tspan dy="-4.8" font-size="9" stroke-width="0.3">+</tspan><tspan dy="4.8">CD8</tspan><tspan dy="-4.8" font-size="9" stroke-width="0.3">+</tspan><tspan dy="4.8"> (%)</tspan></text>
<circle cx="120.3" cy="707.4" r="2.7" fill="#c0112f"/>
<text x="130.9" y="711.1" font-size="9.9" text-anchor="start" fill="#1e1e1e" font-weight="normal" textLength="53.3" lengthAdjust="spacingAndGlyphs">Spleen-CTV</text>
<rect x="117.55" y="720.25" width="5.5" height="5.5" fill="#13427f"/>
<text x="130.9" y="726.6" font-size="9.9" text-anchor="start" fill="#1e1e1e" font-weight="normal" textLength="60.8" lengthAdjust="spacingAndGlyphs">Spleen-CFSE</text>
<path d="M196.3,705.3 H198.6 Q200,705.3 200,706.8 V713.9 Q200,715.3 201.4,715.3 H203.6 M201.4,715.3 Q200,715.3 200,716.7 V724.2 Q200,725.7 198.6,725.7 H196.3" fill="none" stroke="#333" stroke-width="1"/>
<text x="208.6" y="711" font-size="9.9" text-anchor="start" fill="#1e1e1e" font-weight="normal" textLength="59" lengthAdjust="spacingAndGlyphs">Mixed control</text>
<text x="208.6" y="722.6" font-size="9.9" text-anchor="start" fill="#1e1e1e" font-weight="normal" textLength="29.6" lengthAdjust="spacingAndGlyphs">(n = 4)</text>
<polygon points="282.75,704.27 285.55,709.77 279.95,709.77" fill="#c0112f"/>
<text x="293" y="711" font-size="9.9" text-anchor="start" fill="#1e1e1e" font-weight="normal" textLength="68.7" lengthAdjust="spacingAndGlyphs">SA-spleen-CTV</text>
<polygon points="282.75,724.68 285.55,719.08 279.95,719.08" fill="#0e3d6c"/>
<text x="293" y="726" font-size="9.9" text-anchor="start" fill="#1e1e1e" font-weight="normal" textLength="99.4" lengthAdjust="spacingAndGlyphs">SA-FasL-spleen-CFSE</text>
<path d="M396.3,705.6 H398.6 Q400,705.6 400,707.1 V714.4 Q400,715.8 401.4,715.8 H403.8 M401.4,715.8 Q400,715.8 400,717.2 V723.8 Q400,725.3 398.6,725.3 H396.3" fill="none" stroke="#333" stroke-width="1"/>
<text x="408.8" y="711.3" font-size="9.9" text-anchor="start" fill="#1e1e1e" font-weight="normal" textLength="45.8" lengthAdjust="spacingAndGlyphs">Mixed test</text>
<text x="408.8" y="722.8" font-size="9.9" text-anchor="start" fill="#1e1e1e" font-weight="normal" textLength="29.6" lengthAdjust="spacingAndGlyphs">(n = 5)</text>
<line x1="207" y1="764" x2="207" y2="885.6" stroke="#1a1a1a" stroke-width="1.3"/>
<line x1="203.8" y1="885" x2="207" y2="885" stroke="#1a1a1a" stroke-width="1.2"/>
<text x="198.8" y="889.54" font-size="10.8" text-anchor="end" fill="#1e1e1e" font-weight="normal">0</text>
<line x1="203.8" y1="855.2" x2="207" y2="855.2" stroke="#1a1a1a" stroke-width="1.2"/>
<text x="198.8" y="859.74" font-size="10.8" text-anchor="end" fill="#1e1e1e" font-weight="normal">25</text>
<line x1="203.8" y1="825.4" x2="207" y2="825.4" stroke="#1a1a1a" stroke-width="1.2"/>
<text x="198.8" y="829.94" font-size="10.8" text-anchor="end" fill="#1e1e1e" font-weight="normal">50</text>
<line x1="203.8" y1="795.6" x2="207" y2="795.6" stroke="#1a1a1a" stroke-width="1.2"/>
<text x="198.8" y="800.14" font-size="10.8" text-anchor="end" fill="#1e1e1e" font-weight="normal">75</text>
<line x1="203.8" y1="765.8" x2="207" y2="765.8" stroke="#1a1a1a" stroke-width="1.2"/>
<text x="198.8" y="770.34" font-size="10.8" text-anchor="end" fill="#1e1e1e" font-weight="normal">100</text>
<line x1="204" y1="885" x2="398" y2="885" stroke="#1a1a1a" stroke-width="1.3"/>
<line x1="207" y1="885" x2="207" y2="889.2" stroke="#1a1a1a" stroke-width="1.2"/>
<line x1="253.8" y1="885" x2="253.8" y2="889.2" stroke="#1a1a1a" stroke-width="1.2"/>
<line x1="300.6" y1="885" x2="300.6" y2="889.2" stroke="#1a1a1a" stroke-width="1.2"/>
<line x1="347.4" y1="885" x2="347.4" y2="889.2" stroke="#1a1a1a" stroke-width="1.2"/>
<line x1="394.2" y1="885" x2="394.2" y2="889.2" stroke="#1a1a1a" stroke-width="1.2"/>
<text x="207" y="903.6" font-size="10.8" text-anchor="middle" fill="#1e1e1e" font-weight="normal">0.0</text>
<text x="253.8" y="903.6" font-size="10.8" text-anchor="middle" fill="#1e1e1e" font-weight="normal">1.5</text>
<text x="300.6" y="903.6" font-size="10.8" text-anchor="middle" fill="#1e1e1e" font-weight="normal">3.0</text>
<text x="347.4" y="903.6" font-size="10.8" text-anchor="middle" fill="#1e1e1e" font-weight="normal">4.5</text>
<text x="394.2" y="903.6" font-size="10.8" text-anchor="middle" fill="#1e1e1e" font-weight="normal">6.0</text>
<polyline points="207,765.33 208.56,765.78 210.12,766.25 211.68,766.77 213.24,767.32 214.8,767.91 216.36,768.55 217.92,769.23 219.48,769.96 221.04,770.74 222.6,771.58 224.16,772.47 225.72,773.42 227.28,774.44 228.84,775.52 230.4,776.66 231.96,777.88 233.52,779.16 235.08,780.52 236.64,781.94 238.2,783.44 239.76,785.02 241.32,786.67 242.88,788.39 244.44,790.18 246,792.04 247.56,793.96 249.12,795.95 250.68,798 252.24,800.1 253.8,802.25 255.36,804.44 256.92,806.67 258.48,808.92 260.04,811.2 261.6,813.49 263.16,815.79 264.72,818.09 266.28,820.37 267.84,822.64 269.4,824.89 270.96,827.1 272.52,829.27 274.08,831.4 275.64,833.48 277.2,835.5 278.76,837.46 280.32,839.36 281.88,841.19 283.44,842.95 285,844.64 286.56,846.25 288.12,847.8 289.68,849.27 291.24,850.66 292.8,851.98 294.36,853.24 295.92,854.42 297.48,855.54 299.04,856.59 300.6,857.57 302.16,858.5 303.72,859.37 305.28,860.18 306.84,860.94 308.4,861.65 309.96,862.31 311.52,862.93 313.08,863.5 314.64,864.04 316.2,864.53 317.76,864.99 319.32,865.42 320.88,865.82 322.44,866.19 324,866.53 325.56,866.84 327.12,867.13 328.68,867.4 330.24,867.65 331.8,867.89 333.36,868.1 334.92,868.3 336.48,868.48 338.04,868.65 339.6,868.8 341.16,868.94 342.72,869.08 344.28,869.2 345.84,869.31 347.4,869.41 348.96,869.51 350.52,869.6 352.08,869.68 353.64,869.75 355.2,869.82 356.76,869.89 358.32,869.94 359.88,870 361.44,870.05 363,870.09 364.56,870.14 366.12,870.17 367.68,870.21 369.24,870.24 370.8,870.27 372.36,870.3 373.92,870.33 375.48,870.35 377.04,870.37 378.6,870.39 380.16,870.41 381.72,870.43 383.28,870.44 384.84,870.46 386.4,870.47 387.96,870.48 389.52,870.49 391.08,870.51 392.64,870.51 394.2,870.52" fill="none" stroke="#a3102b" stroke-width="1.6"/>
<line x1="253.8" y1="806.8" x2="253.8" y2="798.82" stroke="#cf4a63" stroke-width="1.1"/>
<line x1="251.4" y1="806.8" x2="256.2" y2="806.8" stroke="#cf4a63" stroke-width="1.1"/>
<line x1="251.4" y1="798.82" x2="256.2" y2="798.82" stroke="#cf4a63" stroke-width="1.1"/>
<line x1="300.6" y1="865.81" x2="300.6" y2="849" stroke="#cf4a63" stroke-width="1.1"/>
<line x1="298.2" y1="865.81" x2="303" y2="865.81" stroke="#cf4a63" stroke-width="1.1"/>
<line x1="298.2" y1="849" x2="303" y2="849" stroke="#cf4a63" stroke-width="1.1"/>
<circle cx="207" cy="765.8" r="2.6" fill="#c0112f"/>
<circle cx="253.8" cy="802.99" r="2.6" fill="#c0112f"/>
<circle cx="300.6" cy="857.82" r="2.6" fill="#c0112f"/>
<circle cx="394.2" cy="871.05" r="2.6" fill="#c0112f"/>
<text x="216" y="872.9" font-size="10.8" text-anchor="start" fill="#1e1e1e" font-weight="normal" textLength="67" lengthAdjust="spacingAndGlyphs">T<tspan dy="2.8" font-size="8.6">1/2</tspan><tspan dy="-2.8"> : 108 min</tspan></text>
<text x="302.6" y="921.1" font-size="12.8" text-anchor="middle" fill="#1e1e1e" stroke="#1e1e1e" stroke-width="0.3" textLength="76.1" lengthAdjust="spacingAndGlyphs">Post injection (hrs)</text>
<text transform="translate(171.8,823.85) rotate(-90)" x="0" y="0" font-size="13.5" text-anchor="middle" fill="#1e1e1e" stroke="#1e1e1e" stroke-width="0.38" textLength="80.1" lengthAdjust="spacingAndGlyphs">SA-FasL+ cells (%)</text>
</svg>
</body></html>
